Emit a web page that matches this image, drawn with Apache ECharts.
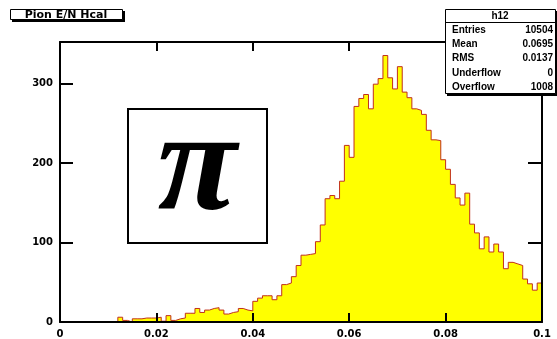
<!DOCTYPE html>
<html>
<head>
<meta charset="utf-8">
<script src="https://cdn.jsdelivr.net/npm/echarts@6/dist/echarts.min.js"></script>
<style>
  html, body { margin: 0; padding: 0; background: #fff; }
  #chart { width: 557px; height: 339px; }
</style>
</head>
<body>
<div id="chart"></div>
<script>
// Histogram h12: pion E/N in the hadron calorimeter, 100 bins over [0, 0.1]
const histName = 'h12';
const histTitle = 'Pion E/N Hcal';
const xRange = [0, 0.1];
const yMax = 352;

const binCounts = [
  0, 0, 0, 0, 0, 0, 0, 0, 0, 0,
  0, 0, 6, 2, 0, 4, 4, 5, 5, 5,
  6, 1, 8, 2, 4, 5, 11, 11, 17, 12,
  15, 17, 18, 15, 10, 12, 13, 17, 15, 14,
  26, 30, 33, 33, 28, 33, 47, 49, 57, 71,
  84, 85, 86, 101, 122, 155, 159, 155, 177, 222,
  207, 271, 281, 286, 268, 299, 306, 335, 307, 293,
  321, 289, 282, 268, 266, 261, 241, 229, 228, 204,
  192, 173, 156, 147, 162, 123, 112, 92, 107, 88,
  98, 88, 67, 75, 73, 71, 54, 48, 40, 49
];

const xTickLabels = ['0', '0.02', '0.04', '0.06', '0.08', '0.1'];
const yTickLabels = ['0', '100', '200', '300'];

const statNames = ['Entries', 'Mean', 'RMS', 'Underflow', 'Overflow'];
const statValues = ['10504', '0.0695', '0.0137', '0', '1008'];

const particleSymbol = '\u03c0';

// Step outline: one point at each lower bin edge, plus the upper edge of the last bin
const binWidth = (xRange[1] - xRange[0]) / binCounts.length;
const stepData = binCounts.map((c, i) => [xRange[0] + i * binWidth, c]);
stepData.push([xRange[1], binCounts[binCounts.length - 1]]);

const tickFont = { fontFamily: 'DejaVu Sans', fontWeight: 'bold', fontSize: 10, color: '#000' };

function xLabel(v) {
  const idx = Math.round(v / 0.02);
  return xTickLabels[idx] !== undefined ? xTickLabels[idx] : '';
}
function yLabel(v) {
  const idx = Math.round(v / 100);
  return (Math.abs(v - idx * 100) < 1e-6 && yTickLabels[idx] !== undefined) ? yTickLabels[idx] : '';
}

function frameX(position, withLabels, tickLen) {
  return {
    type: 'value', position: position, min: xRange[0], max: xRange[1], interval: 0.02,
    z: 10,
    axisLine: { show: true, onZero: false, lineStyle: { color: '#000', width: 2 } },
    axisTick: { show: true, inside: true, length: tickLen, lineStyle: { color: '#000', width: 2 } },
    axisLabel: withLabels ? Object.assign({ show: true, margin: 7, formatter: xLabel }, tickFont) : { show: false },
    splitLine: { show: false }
  };
}
function frameY(position, withLabels, tickLen) {
  return {
    type: 'value', position: position, min: 0, max: yMax, interval: 100,
    z: 10,
    axisLine: { show: true, onZero: false, lineStyle: { color: '#000', width: 2 } },
    axisTick: { show: true, inside: true, length: tickLen, lineStyle: { color: '#000', width: 2 } },
    axisLabel: withLabels ? Object.assign({ show: true, margin: 7, showMaxLabel: false, formatter: yLabel }, tickFont) : { show: false },
    splitLine: { show: false }
  };
}

const statFont = 'bold 10px "Liberation Sans"';
const statElements = [];
statNames.forEach((name, i) => {
  const y = 30 + i * 14.3;
  statElements.push({ type: 'text', x: 452, y: y, z: 101,
    style: { text: name, font: statFont, fill: '#000', textAlign: 'left', textVerticalAlign: 'middle' } });
  statElements.push({ type: 'text', x: 553, y: y, z: 101,
    style: { text: statValues[i], font: statFont, fill: '#000', textAlign: 'right', textVerticalAlign: 'middle' } });
});

const chart = echarts.init(document.getElementById('chart'), null, { renderer: 'canvas' });
chart.setOption({
  animation: false,
  backgroundColor: '#fff',
  grid: { left: 60, right: 15, top: 42, bottom: 15, containLabel: false },
  xAxis: [frameX('bottom', true, 9), frameX('top', false, 9)],
  yAxis: [frameY('left', true, 13), frameY('right', false, 14)],
  series: [{
    type: 'line',
    name: histName,
    xAxisIndex: 0, yAxisIndex: 0,
    step: 'end',
    data: stepData,
    symbol: 'none',
    z: 2,
    lineStyle: { color: '#c0301c', width: 1 },
    areaStyle: { color: '#ffff00', opacity: 1 }
  }],
  graphic: [
    // title pave with drop shadow
    { type: 'rect', z: 100, shape: { x: 12, y: 11, width: 113, height: 11 }, style: { fill: '#000' } },
    { type: 'rect', z: 100, shape: { x: 10.5, y: 9.5, width: 112, height: 10 }, style: { fill: '#fff', stroke: '#000', lineWidth: 1 } },
    { type: 'text', z: 101, x: 66, y: 15,
      style: { text: histTitle, font: 'bold 11px "DejaVu Sans"', fill: '#000', textAlign: 'center', textVerticalAlign: 'middle' } },
    // statistics box
    { type: 'rect', z: 100, shape: { x: 447, y: 11, width: 112, height: 85 }, style: { fill: '#000' } },
    { type: 'rect', z: 100, shape: { x: 445.5, y: 9.5, width: 110, height: 84 }, style: { fill: '#fff', stroke: '#000', lineWidth: 1 } },
    { type: 'line', z: 101, shape: { x1: 445.5, y1: 22.5, x2: 555.5, y2: 22.5 }, style: { stroke: '#000', lineWidth: 1 } },
    { type: 'text', z: 101, x: 500, y: 16,
      style: { text: histName, font: statFont, fill: '#000', textAlign: 'center', textVerticalAlign: 'middle' } },
    ...statElements,
    // particle label box
    { type: 'rect', z: 100, shape: { x: 128, y: 109, width: 139, height: 134 }, style: { fill: '#fff', stroke: '#000', lineWidth: 2 } },
    { type: 'text', z: 101, x: 197, y: 172,
      style: { text: particleSymbol, font: 'italic bold 145px "Liberation Serif"', fill: '#000', textAlign: 'center', textVerticalAlign: 'middle' } }
  ]
});
</script>
</body>
</html>
